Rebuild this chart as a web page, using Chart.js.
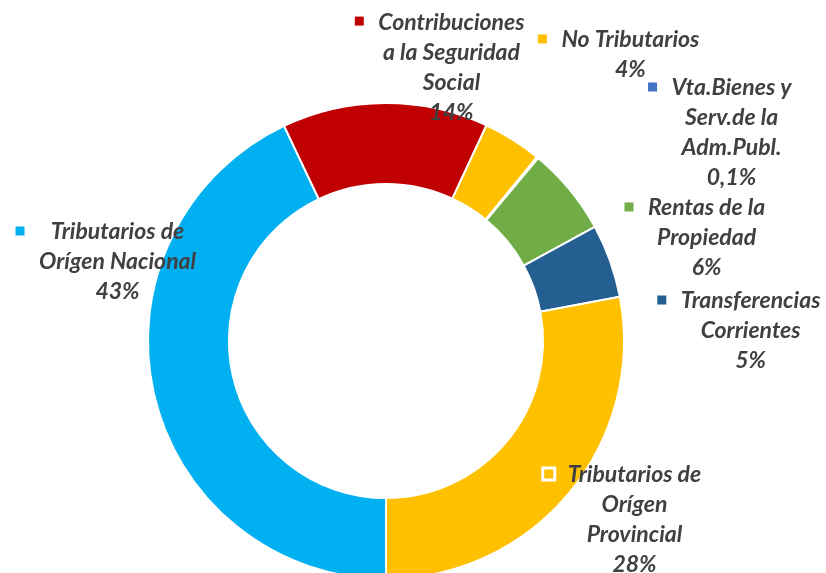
<!DOCTYPE html>
<html>
<head>
<meta charset="utf-8">
<script src="https://cdn.jsdelivr.net/npm/chart.js@4.4.0/dist/chart.umd.min.js"></script>
<style>
    html, body { margin: 0; padding: 0; background: #ffffff; overflow: hidden; }
    #wrap { width: 826px; height: 620px; }
</style>
</head>
<body>
<div id="wrap"><canvas id="recursosChart" width="826" height="620"></canvas></div>
<script>
// Data
const categories = [
    ['Tributarios de', 'Orígen Nacional'],
    ['Contribuciones', 'a la Seguridad', 'Social'],
    ['No Tributarios'],
    ['Vta.Bienes y', 'Serv.de la', 'Adm.Publ.'],
    ['Rentas de la', 'Propiedad'],
    ['Transferencias', 'Corrientes'],
    ['Tributarios de', 'Orígen', 'Provincial']
];
const shares = [43, 14, 4, 0.1, 6, 5, 28];
const sliceColors = ['#00B0F0', '#C00000', '#FFC000', '#4472C4', '#70AD47', '#255E91', '#FFC000'];

// label block placement, relative to doughnut centre, in units of the outer radius
const labelPos = [
    [-1.128, -0.458],
    [0.275, -1.340],
    [1.027, -1.265],
    [1.452, -1.063],
    [1.347, -0.559],
    [1.532, -0.168],
    [1.044, 0.563]
];

const LABEL_FONT = 'italic bold 23px Lato, "Open Sans", sans-serif';
const LINE_H = 30;

function fmtPct(v) {
    return String(v).replace('.', ',') + '%';
}

// --- Data labels with legend key ---
const sliceLabels = {
    id: 'sliceLabels',
    afterDatasetsDraw(chart) {
        const ctx = chart.ctx;
        const meta = chart.getDatasetMeta(0);
        const arc0 = meta.data[0];
        const cx = arc0.x, cy = arc0.y, R = arc0.outerRadius;

        ctx.save();
        ctx.font = LABEL_FONT;
        ctx.textAlign = 'center';
        ctx.textBaseline = 'middle';

        categories.forEach((lines, i) => {
            const all = lines.concat([fmtPct(shares[i])]);
            const x = cx + labelPos[i][0] * R;
            const y = cy + labelPos[i][1] * R;
            const maxW = Math.max(...all.map(t => ctx.measureText(t).width));

            ctx.fillStyle = '#404040';
            all.forEach((t, k) => {
                ctx.fillText(t, x, y + k * LINE_H);
            });

            // legend key
            const kx = x - maxW / 2 - 13 - 12;
            const ky = y - 7;
            ctx.fillStyle = sliceColors[i];
            ctx.fillRect(kx, ky, 12, 12);
            ctx.strokeStyle = '#ffffff';
            ctx.lineWidth = 3;
            ctx.strokeRect(kx, ky, 12, 12);
        });
        ctx.restore();
    }
};

new Chart(document.getElementById('recursosChart'), {
    type: 'doughnut',
    data: {
        labels: categories,
        datasets: [{
            data: shares,
            backgroundColor: sliceColors,
            borderColor: '#ffffff',
            borderWidth: 2
        }]
    },
    options: {
        responsive: false,
        animation: false,
        rotation: 180,
        cutout: '66%',
        layout: { padding: { left: 147, right: 201, top: 102, bottom: 40 } },
        plugins: {
            legend: { display: false },
            tooltip: { enabled: false }
        }
    },
    plugins: [sliceLabels]
});
</script>
</body>
</html>
